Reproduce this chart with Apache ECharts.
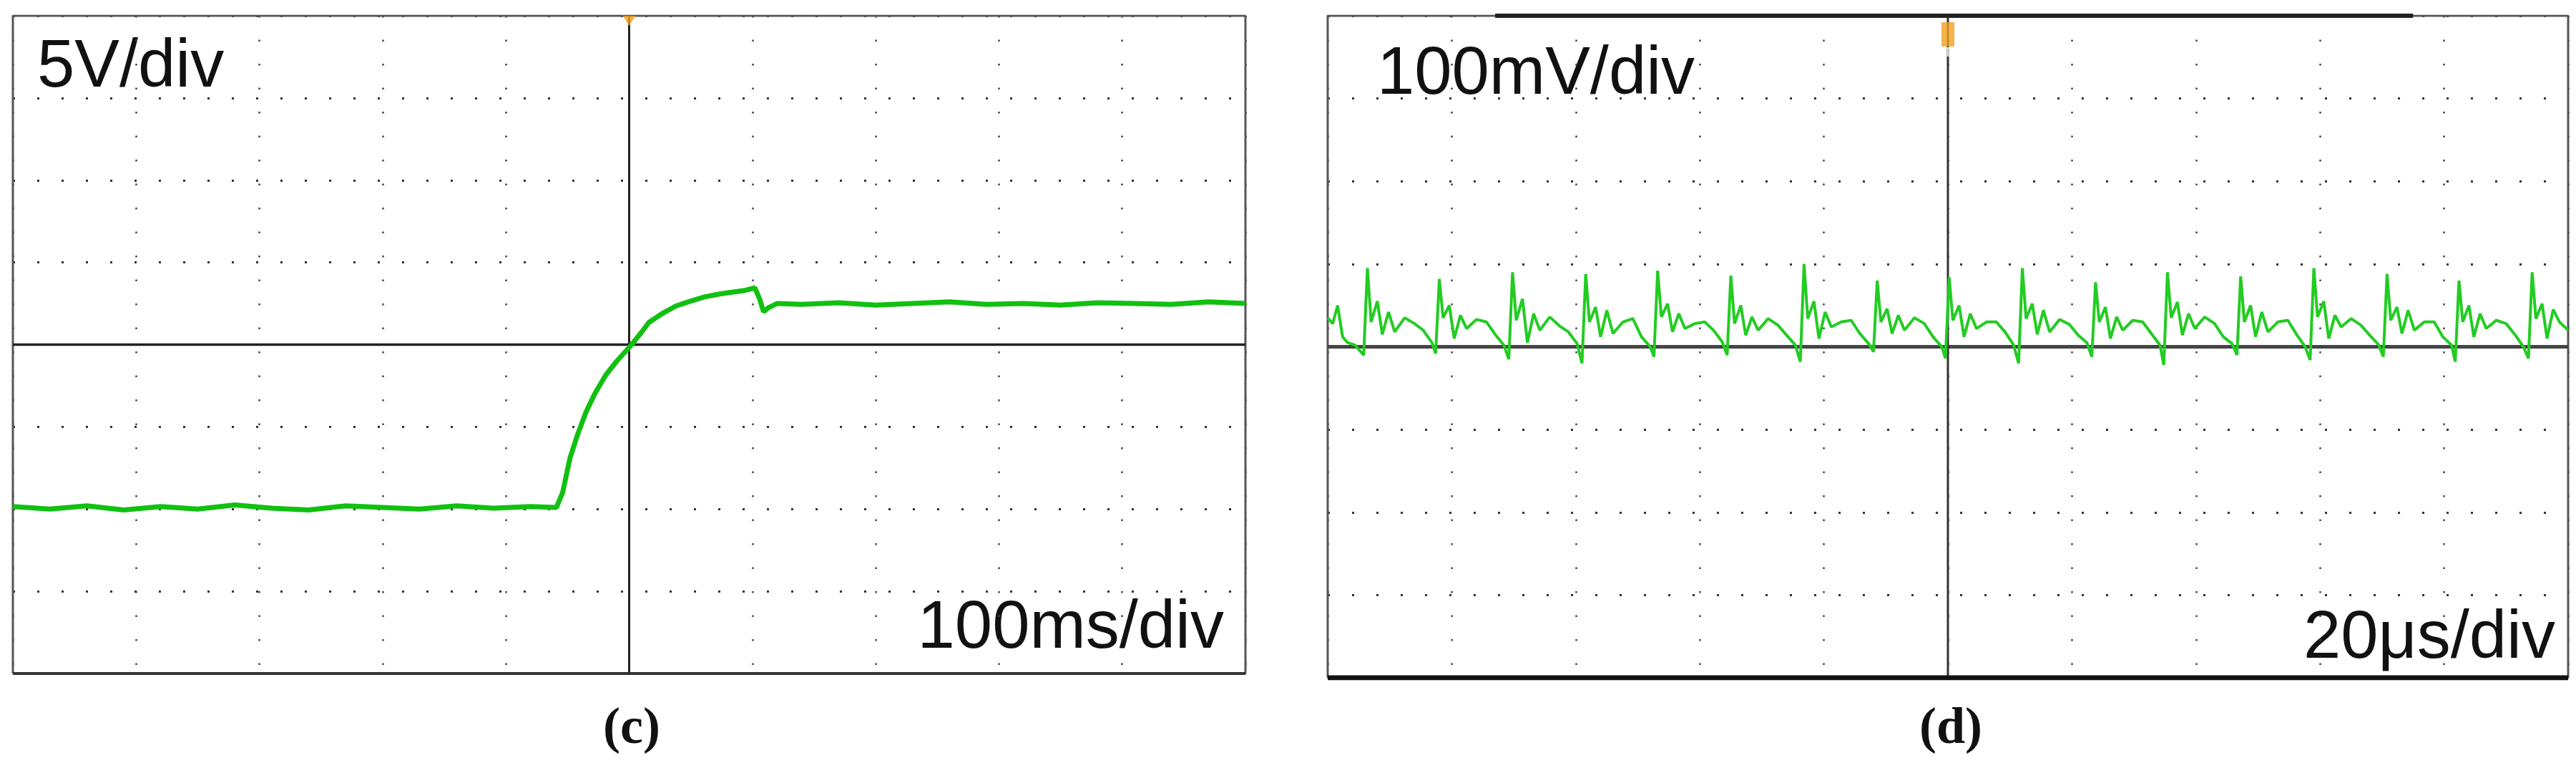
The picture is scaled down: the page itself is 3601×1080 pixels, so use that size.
<!DOCTYPE html>
<html><head><meta charset="utf-8">
<script src="https://cdn.jsdelivr.net/npm/echarts@6/dist/echarts.min.js"></script>
<style>html,body{margin:0;padding:0;background:#fff}#c{width:3601px;height:1080px}</style>
</head><body><div id="c"></div>
<script>
// Panel (c): time in divisions (100 ms/div), voltage in divisions (5 V/div)
const cX = [0,0.3,0.6,0.9,1.2,1.5,1.8,2.1,2.4,2.7,3.0,3.3,3.6,3.9,4.2,4.41,4.46,4.52,4.58,4.65,4.72,4.81,4.9,5.02,5.1,5.16,5.27,5.38,5.5,5.61,5.75,5.94,6.02,6.06,6.09,6.13,6.2,6.4,6.7,7.0,7.3,7.6,7.9,8.2,8.5,8.8,9.1,9.4,9.7,10];
const cY = [-1.97,-2.0,-1.96,-2.01,-1.97,-2.0,-1.95,-1.99,-2.01,-1.96,-1.98,-2.0,-1.96,-1.99,-1.97,-1.98,-1.8,-1.38,-1.1,-0.82,-0.6,-0.37,-0.2,0.0,0.15,0.27,0.38,0.47,0.53,0.58,0.62,0.66,0.69,0.55,0.4,0.45,0.5,0.49,0.51,0.48,0.5,0.52,0.49,0.5,0.48,0.51,0.5,0.49,0.52,0.5];
// Panel (d): time in divisions (20 µs/div), voltage in divisions (100 mV/div)
const dX = [0,0.04,0.08,0.12,0.16,0.22,0.29,
0.32,0.35,0.40,0.44,0.49,0.54,0.62,0.70,0.77,0.84,0.87,
0.90,0.93,0.98,1.02,1.07,1.12,1.20,1.28,1.35,1.42,1.46,
1.49,1.52,1.57,1.61,1.66,1.71,1.79,1.87,1.94,2.01,2.05,
2.08,2.11,2.16,2.20,2.25,2.30,2.38,2.46,2.53,2.60,2.63,
2.66,2.69,2.74,2.78,2.83,2.88,2.96,3.04,3.11,3.18,3.22,
3.25,3.28,3.33,3.37,3.42,3.47,3.55,3.63,3.70,3.77,3.81,
3.84,3.87,3.92,3.96,4.01,4.06,4.14,4.22,4.29,4.36,4.40,
4.43,4.46,4.51,4.55,4.60,4.65,4.73,4.81,4.88,4.95,4.98,
5.01,5.04,5.09,5.13,5.18,5.23,5.31,5.39,5.46,5.53,5.57,
5.60,5.63,5.68,5.72,5.77,5.82,5.90,5.98,6.05,6.12,6.16,
6.19,6.22,6.27,6.31,6.36,6.41,6.49,6.57,6.64,6.71,6.74,
6.77,6.80,6.85,6.89,6.94,6.99,7.07,7.15,7.22,7.29,7.33,
7.36,7.39,7.44,7.48,7.53,7.58,7.66,7.74,7.81,7.88,7.92,
7.95,7.98,8.03,8.07,8.12,8.17,8.25,8.33,8.40,8.47,8.51,
8.54,8.57,8.62,8.66,8.71,8.76,8.84,8.92,8.99,9.06,9.09,
9.12,9.15,9.20,9.24,9.29,9.34,9.42,9.50,9.57,9.64,9.68,
9.71,9.74,9.79,9.83,9.88,9.93,10];
const dY = [0.35,0.28,0.5,0.12,0.05,0.02,-0.1,
0.95,0.3,0.55,0.15,0.42,0.18,0.35,0.28,0.2,0.05,-0.08,
0.82,0.35,0.5,0.1,0.38,0.22,0.33,0.3,0.15,0.02,-0.15,
0.9,0.32,0.58,0.05,0.4,0.2,0.36,0.25,0.18,0.04,-0.2,
0.88,0.3,0.48,0.12,0.44,0.16,0.3,0.34,0.12,0.0,-0.12,
0.92,0.36,0.52,0.18,0.4,0.22,0.28,0.3,0.2,0.06,-0.1,
0.86,0.28,0.5,0.14,0.36,0.2,0.34,0.26,0.14,0.02,-0.18,
1.0,0.34,0.55,0.1,0.42,0.24,0.3,0.32,0.16,0.04,-0.06,
0.8,0.3,0.46,0.16,0.38,0.2,0.35,0.28,0.12,0.0,-0.14,
0.84,0.32,0.5,0.12,0.4,0.22,0.3,0.3,0.18,0.02,-0.2,
0.95,0.34,0.52,0.15,0.44,0.18,0.33,0.27,0.14,0.05,-0.12,
0.78,0.3,0.48,0.1,0.36,0.2,0.32,0.3,0.16,0.02,-0.22,
0.9,0.35,0.54,0.14,0.4,0.22,0.36,0.28,0.12,0.04,-0.1,
0.85,0.3,0.5,0.12,0.42,0.18,0.3,0.32,0.15,0.0,-0.16,
0.95,0.36,0.55,0.1,0.38,0.24,0.34,0.26,0.14,0.03,-0.12,
0.88,0.32,0.48,0.16,0.44,0.2,0.3,0.3,0.12,0.02,-0.18,
0.8,0.3,0.5,0.12,0.4,0.22,0.32,0.28,0.15,0.0,-0.14,
0.9,0.34,0.52,0.1,0.45,0.3,0.2];
const labels = {cV:'5V/div', cT:'100ms/div', dV:'100mV/div', dT:'20μs/div', cCap:'(c)', dCap:'(d)'};

const pair = (xs, ys) => xs.map((x, i) => [x, ys[i]]);
const grids = [
  {left:18, top:22, width:1723, height:919},
  {left:1856, top:22, width:1734, height:925}
];
function xa(i){return {gridIndex:i,type:'value',min:0,max:10,interval:1,
  axisLine:{onZero:false,show:false},axisTick:{show:false},axisLabel:{show:false},
  splitLine:{show:true,lineStyle:{color:'#444',width:2.5,type:[2.5,31]}}};}
function ya(i){return {gridIndex:i,type:'value',min:-4,max:4,interval:1,
  axisLine:{show:false},axisTick:{show:false},axisLabel:{show:false},
  splitLine:{show:true,lineStyle:{color:'#333',width:3,type:[3,31]}}};}
const border = (i)=>({type:'line',xAxisIndex:i,yAxisIndex:i,silent:true,symbol:'none',
  data:[[0,-4],[10,-4],[10,4],[0,4],[0,-4]],lineStyle:{color:'#555',width:3},z:1});
const seg = (i,a,b,c,w)=>({type:'line',xAxisIndex:i,yAxisIndex:i,silent:true,symbol:'none',z:2,
  data:[a,b],lineStyle:{color:c,width:w}});
const font = '94px "Liberation Sans"';
const option = {
  animation:false,
  grid:grids,
  xAxis:[xa(0),xa(1)],
  yAxis:[ya(0),ya(1)],
  series:[
    border(0),border(1),
    seg(0,[0,0],[10,0],'#222',3.5),
    seg(0,[5,-4],[5,4],'#222',3),
    seg(0,[0,-4],[10,-4],'#333',4),
    seg(1,[0,0],[10,0],'#444',5),
    seg(1,[5,-4],[5,4],'#333',3),
    seg(1,[0,-4],[10,-4],'#111',7),
    seg(1,[1.35,4],[8.75,4],'#222',6),
    {type:'line',name:'c',xAxisIndex:0,yAxisIndex:0,symbol:'none',z:5,
     data:pair(cX,cY),lineStyle:{color:'#11c011',width:7}},
    {type:'line',name:'d',xAxisIndex:1,yAxisIndex:1,symbol:'none',z:5,
     data:pair(dX,dY),lineStyle:{color:'#22cc22',width:4}},
    {type:'scatter',xAxisIndex:0,yAxisIndex:0,silent:true,z:6,symbol:'triangle',symbolRotate:180,
     symbolSize:[18,14],symbolOffset:[0,7],data:[[5,4]],itemStyle:{color:'#f0a020'}},
    {type:'scatter',xAxisIndex:1,yAxisIndex:1,silent:true,z:6,symbol:'rect',
     symbolSize:[18,34],symbolOffset:[0,26],data:[[5,4]],itemStyle:{color:'#f0a020'},
     label:{show:true,formatter:'T',color:'#fff',fontSize:18,fontWeight:'bold',offset:[0,26]}}
  ],
  graphic:[
    {type:'text',left:52,top:48,style:{text:labels.cV,font:font,fill:'#111'}},
    {type:'text',right:3601-1711,top:832,style:{text:labels.cT,font:font,fill:'#111'}},
    {type:'text',left:1925,top:58,style:{text:labels.dV,font:font,fill:'#111'}},
    {type:'text',right:3601-3572,top:846,style:{text:labels.dT,font:font,fill:'#111'}},
    {type:'text',left:843,top:983,style:{text:labels.cCap,font:'bold 72px "Liberation Serif"',fill:'#111'}},
    {type:'text',left:2683,top:983,style:{text:labels.dCap,font:'bold 72px "Liberation Serif"',fill:'#111'}}
  ]
};
echarts.init(document.getElementById('c')).setOption(option);
</script></body></html>
